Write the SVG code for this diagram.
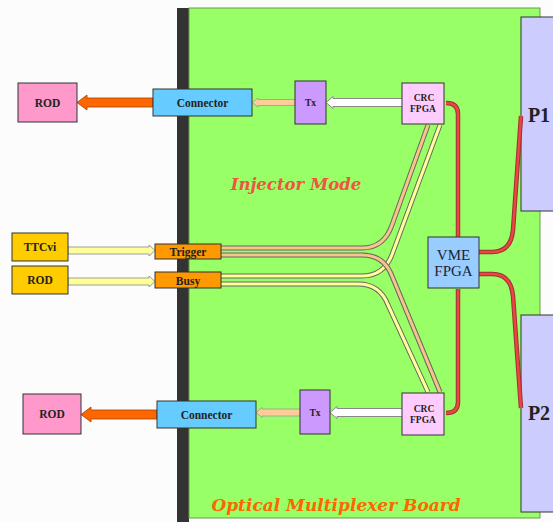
<svg xmlns="http://www.w3.org/2000/svg" width="553" height="522" viewBox="0 0 553 522">
<style>
.lbl{font-family:"Liberation Serif","DejaVu Serif",serif;font-weight:bold;fill:#222;text-anchor:middle}
.box{stroke:#333;stroke-width:1}
.cab{fill:none;stroke:#666;stroke-width:5;stroke-linejoin:round}
.red{fill:none;stroke:#993333;stroke-width:4.5}
.redin{fill:none;stroke:#ee4444;stroke-width:2.5}
</style>
<rect x="0" y="0" width="553" height="522" fill="#fcfcfc"/>
<g id="board">
<rect x="177" y="8" width="12" height="514" fill="#333"/>
<rect x="189" y="8" width="351" height="510" fill="#99ff66" stroke="#66994d" stroke-width="1"/>
<text x="296" y="190" font-family="DejaVu Serif,Liberation Serif,serif" font-weight="bold" font-style="italic" font-size="16.5" fill="#ee5544" text-anchor="middle">Injector Mode</text>
<text x="336" y="511" font-family="DejaVu Serif,Liberation Serif,serif" font-weight="bold" font-style="italic" font-size="17" fill="#ff6600" text-anchor="middle">Optical Multiplexer Board</text>
</g>
<g id="P1"><rect class="box" x="521" y="17" width="40" height="194" fill="#ccccff"/><text class="lbl" x="539" y="122" font-size="20">P1</text></g>
<g id="P2"><rect class="box" x="521" y="315" width="40" height="197" fill="#ccccff"/><text class="lbl" x="539" y="420" font-size="20">P2</text></g>
<g id="connectors">
<path class="cab" d="M221,248 L362,248 Q384,248 392,225 L428,125"/>
<path d="M221,248 L362,248 Q384,248 392,225 L428,125" fill="none" stroke="#f5c58a" stroke-width="3"/>
<path class="cab" d="M221,276 L362,276 Q385,276 393,252 L440,125"/>
<path d="M221,276 L362,276 Q385,276 393,252 L440,125" fill="none" stroke="#ffff99" stroke-width="3"/>
<path class="cab" d="M221,255 L362,255 Q384,255 392,276 L440,392"/>
<path d="M221,255 L362,255 Q384,255 392,276 L440,392" fill="none" stroke="#f5c58a" stroke-width="3"/>
<path class="cab" d="M221,284 L358,284 Q380,284 388,305 L428,392"/>
<path d="M221,284 L358,284 Q380,284 388,305 L428,392" fill="none" stroke="#ffff99" stroke-width="3"/>
<path class="red" d="M458,237 L458,114 Q458,103 446,103"/>
<path class="redin" d="M458,237 L458,114 Q458,103 446,103"/>
<path class="red" d="M458,289 L458,402 Q458,413 446,413"/>
<path class="redin" d="M458,289 L458,402 Q458,413 446,413"/>
<path class="red" d="M479,252 L492,252 Q511,252 513,230 L521,116"/>
<path class="redin" d="M479,252 L492,252 Q511,252 513,230 L521,116"/>
<path class="red" d="M479,274 L492,274 Q511,274 513,296 L521,408"/>
<path class="redin" d="M479,274 L492,274 Q511,274 513,296 L521,408"/>
<path d="M153,98 L87,98 L87,95 L77,102.5 L87,110 L87,107 L153,107 Z" fill="#ff6600" stroke="#994400" stroke-width="0.8"/>
<path d="M157,410 L91,410 L91,407 L81,414.5 L91,422 L91,419 L157,419 Z" fill="#ff6600" stroke="#994400" stroke-width="0.8"/>
<path d="M295,99.5 L258,99.5 L258,98 L252,102.5 L258,107 L258,105.5 L295,105.5 Z" fill="#ffcc99" stroke="#999" stroke-width="0.8"/>
<path d="M300,409 L262,409 L262,407.5 L256,412.5 L262,417.5 L262,416 L300,416 Z" fill="#ffcc99" stroke="#999" stroke-width="0.8"/>
<path d="M412,98.5 L333,98.5 L333,96.5 L326,102.5 L333,108.5 L333,106.5 L406,106.5 Q414,104 412,98.5 Z" fill="#fff" stroke="#888" stroke-width="1"/>
<path d="M414,408.5 L337,408.5 L337,406.5 L330,412.5 L337,418.5 L337,416.5 L410,416.5 Q416,414 414,408.5 Z" fill="#fff" stroke="#888" stroke-width="1"/>
<path d="M68,247 L149,247 L149,245 L155,250.5 L149,256 L149,254 L68,254 Z" fill="#ffff99" stroke="#888" stroke-width="0.8"/>
<path d="M68,278 L149,278 L149,276 L155,281.5 L149,287 L149,285 L68,285 Z" fill="#ffff99" stroke="#888" stroke-width="0.8"/>
</g>
<g id="ROD_top"><rect class="box" x="18" y="83" width="59" height="39" fill="#ff99cc"/><text class="lbl" x="47.5" y="106.5" font-size="11.5">ROD</text></g>
<g id="Connector_top"><rect class="box" x="153" y="89" width="99" height="27" fill="#66ccff"/><text class="lbl" x="202.5" y="106.5" font-size="11.5">Connector</text></g>
<g id="Tx_top"><rect class="box" x="295" y="81" width="31" height="43" fill="#cc99ff"/><text class="lbl" x="310.5" y="106" font-size="9.5">Tx</text></g>
<g id="CRC_top"><rect class="box" x="402" y="83" width="42" height="41" fill="#ffccff"/><text class="lbl" x="424" y="101" font-size="9.5">CRC</text><text class="lbl" x="423" y="112" font-size="9.5">FPGA</text></g>
<g id="ROD_bottom"><rect class="box" x="23" y="394" width="58" height="40" fill="#ff99cc"/><text class="lbl" x="52" y="418" font-size="11.5">ROD</text></g>
<g id="Connector_bottom"><rect class="box" x="157" y="401" width="99" height="27" fill="#66ccff"/><text class="lbl" x="206.5" y="418.5" font-size="11.5">Connector</text></g>
<g id="Tx_bottom"><rect class="box" x="300" y="390" width="30" height="44" fill="#cc99ff"/><text class="lbl" x="315" y="416" font-size="9.5">Tx</text></g>
<g id="CRC_bottom"><rect class="box" x="402" y="393" width="42" height="42" fill="#ffccff"/><text class="lbl" x="424" y="412" font-size="9.5">CRC</text><text class="lbl" x="423" y="423" font-size="9.5">FPGA</text></g>
<g id="VME"><rect class="box" x="428" y="237" width="51" height="51" fill="#99ccff" stroke="#557788"/><text x="453.5" y="260" font-family="Liberation Serif,DejaVu Serif,serif" font-size="15" fill="#223" text-anchor="middle">VME</text><text x="453.5" y="276" font-family="Liberation Serif,DejaVu Serif,serif" font-size="15" fill="#223" text-anchor="middle">FPGA</text></g>
<g id="TTCvi"><rect class="box" x="12" y="233" width="56" height="28" fill="#ffcc00"/><text class="lbl" x="40" y="251" font-size="11.5">TTCvi</text></g>
<g id="ROD_busy"><rect class="box" x="12" y="266" width="56" height="28" fill="#ffcc00"/><text class="lbl" x="40" y="284" font-size="11.5">ROD</text></g>
<g id="Trigger"><rect class="box" x="155" y="244" width="66" height="15" fill="#ff9900"/><text class="lbl" x="188" y="256" font-size="11.5">Trigger</text></g>
<g id="Busy"><rect class="box" x="155" y="272" width="66" height="16" fill="#ff9900"/><text class="lbl" x="188" y="284.5" font-size="11.5">Busy</text></g>
</svg>
